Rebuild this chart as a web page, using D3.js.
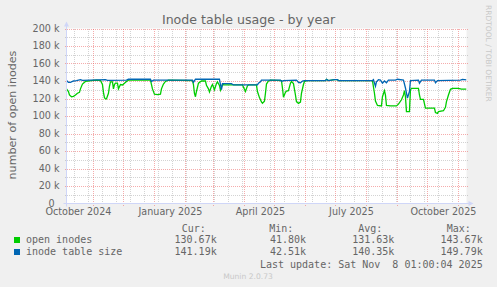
<!DOCTYPE html>
<html><head><meta charset="utf-8">
<script src="https://cdn.jsdelivr.net/npm/d3@7"></script>
<style>
html,body{margin:0;padding:0;background:#f0f0f0;}
svg{display:block;}
text{font-family:"DejaVu Sans",sans-serif;fill:#666;}
.mono{font-family:"DejaVu Sans Mono",monospace;white-space:pre;}
</style></head><body>
<svg id="c" width="497" height="287"></svg>
<script>
// ---- data (values in thousands) ----
const openInodes = [
["2024-10-04",131],["2024-10-06",128],["2024-10-07",124],["2024-10-09",122],["2024-10-11",122.5],
["2024-10-13",124],["2024-10-15",126],["2024-10-17",127],["2024-10-18",131],["2024-10-20",136.5],
["2024-10-23",139.5],["2024-10-29",140.5],["2024-11-03",141],["2024-11-07",140.5],["2024-11-09",136],
["2024-11-10",127],["2024-11-11",121],["2024-11-12",119.5],["2024-11-13",119.5],["2024-11-15",126],
["2024-11-16",134],["2024-11-17",139],["2024-11-19",139],["2024-11-20",131],["2024-11-21",136],
["2024-11-22",137.5],["2024-11-24",137.5],["2024-11-25",131],["2024-11-27",136],["2024-11-29",135.5],
["2024-12-01",137.5],["2024-12-03",139.5],["2024-12-05",141],["2024-12-27",141],["2024-12-29",131],
["2024-12-31",125],["2025-01-03",124.5],["2025-01-06",125],["2025-01-07",131],["2025-01-09",136.5],
["2025-01-11",139.5],["2025-01-14",141],["2025-02-07",140.5],["2025-02-08",136],["2025-02-09",126],
["2025-02-10",122],["2025-02-11",128],["2025-02-13",137.5],["2025-02-16",140],["2025-02-20",140],
["2025-02-21",135],["2025-02-23",131],["2025-02-24",127.5],["2025-02-26",134],["2025-02-27",136],
["2025-03-01",130],["2025-03-03",137],["2025-03-04",139],["2025-03-06",135],["2025-03-07",129.5],
["2025-03-09",136],["2025-03-11",135.5],["2025-03-29",135.5],["2025-04-01",128],["2025-04-03",134.5],
["2025-04-04",135.5],["2025-04-12",135.5],["2025-04-13",128],["2025-04-15",121],["2025-04-17",116],
["2025-04-18",114.5],["2025-04-20",117],["2025-04-21",126],["2025-04-22",136.5],["2025-04-24",140],
["2025-04-26",141],["2025-05-07",140.5],["2025-05-08",132],["2025-05-09",121.5],["2025-05-11",127],
["2025-05-12",128.5],["2025-05-14",129],["2025-05-16",137.5],["2025-05-17",139.5],["2025-05-19",137],
["2025-05-21",124],["2025-05-22",116.5],["2025-05-24",114.5],["2025-05-26",116],["2025-05-27",126],
["2025-05-29",136],["2025-05-30",139.5],["2025-06-02",140.5],["2025-06-20",140.5],["2025-06-21",141.8],
["2025-06-23",140.5],["2025-06-29",141.5],["2025-07-02",141.5],["2025-07-03",140.5],["2025-08-06",140.5],
["2025-08-08",126],["2025-08-09",117],["2025-08-11",112],["2025-08-15",111.5],["2025-08-16",122],
["2025-08-18",129],["2025-08-19",124],["2025-08-20",112],["2025-08-24",111.5],["2025-08-30",111.5],
["2025-09-01",113.5],["2025-09-04",118.5],["2025-09-06",124],["2025-09-07",129],["2025-09-08",122],
["2025-09-09",105],["2025-09-12",105],["2025-09-13",130],["2025-09-14",131.5],["2025-09-21",131.5],
["2025-09-22",124],["2025-09-23",119],["2025-09-26",119],["2025-09-28",109],["2025-10-07",109],
["2025-10-08",104],["2025-10-10",103],["2025-10-11",105],["2025-10-16",106],["2025-10-18",110],
["2025-10-19",116.5],["2025-10-21",124],["2025-10-23",130.5],["2025-10-25",131.5],["2025-10-31",131.5],
["2025-11-03",130.7],["2025-11-08",130.67]
];
const inodeTableSize = [
["2024-10-04",140.5],["2024-10-06",138.5],["2024-10-08",138.5],["2024-10-11",140],["2024-10-14",140.5],
["2024-10-18",141.5],["2024-10-20",140.8],["2024-11-12",141.5],["2024-11-14",140.8],["2024-12-03",141],
["2024-12-05",142],["2024-12-27",142],["2024-12-28",139.5],["2024-12-30",141],["2025-02-07",141],
["2025-02-08",138.5],["2025-02-10",142],["2025-03-06",142],["2025-03-07",136],["2025-03-08",130],
["2025-03-09",137],["2025-03-18",137],["2025-03-20",135.5],["2025-04-13",135.5],["2025-04-14",137.5],
["2025-04-16",139],["2025-04-17",141],["2025-05-06",141],["2025-05-07",139.5],["2025-05-09",140.5],
["2025-05-22",141],["2025-05-24",138.5],["2025-05-26",138],["2025-05-28",140],["2025-05-30",140.5],
["2025-06-20",140.5],["2025-06-21",141.8],["2025-06-23",140.5],["2025-06-29",141.5],["2025-07-02",141.5],
["2025-07-03",140.5],["2025-08-06",140.5],["2025-08-07",141.5],["2025-08-09",134],["2025-08-10",139],
["2025-08-12",141.5],["2025-08-14",141],["2025-08-16",137.5],["2025-08-18",140],["2025-08-20",138],
["2025-08-22",141],["2025-08-29",141],["2025-08-31",142],["2025-09-06",141],["2025-09-08",132],
["2025-09-10",120.5],["2025-09-12",128],["2025-09-13",140.5],["2025-09-21",141],["2025-09-22",137.5],
["2025-09-24",141],["2025-10-07",141],["2025-10-08",138],["2025-10-10",140.5],["2025-11-02",141],
["2025-11-04",141.8],["2025-11-08",141.19]
];
const seriesNames = ["open inodes","inode table size"];
const seriesColors = ["#00cc00","#0066b3"];
const statHeaders = ["Cur:","Min:","Avg:","Max:"];
const statOpen = ["130.67k","41.80k","131.63k","143.67k"];
const statSize = ["141.19k","42.51k","140.35k","149.79k"];
const yTicks = [0,20,40,60,80,100,120,140,160,180,200];
const yTickLabels = ["0","20 k","40 k","60 k","80 k","100 k","120 k","140 k","160 k","180 k","200 k"];
const xLabelMonths = ["2024-10-01","2025-01-01","2025-04-01","2025-07-01","2025-10-01"];
const xLabels = ["October 2024","January 2025","April 2025","July 2025","October 2025"];
const titleText = "Inode table usage - by year";
const yTitle = "number of open inodes";
const lastUpdate = "Last update: Sat Nov  8 01:00:04 2025";

// ---- layout ----
const svg = d3.select("#c");
const W = 497, H = 287;
const X0 = 66.5, X1 = 466.5, Y0 = 203.5, Y1 = 28.5;
const parse = d3.utcParse("%Y-%m-%d");
const tEnd = new Date(Date.UTC(2025,10,8,1,0,4));
const tStart = new Date(tEnd.getTime() - 400*86400000);
const x = d3.scaleUtc().domain([tStart,tEnd]).range([X0,X1]);
const y = d3.scaleLinear().domain([0,200]).range([Y0,Y1]);

svg.append("rect").attr("width",W).attr("height",H).attr("fill","#f0f0f0");
svg.append("rect").attr("x",X0).attr("y",Y1).attr("width",X1-X0).attr("height",Y0-Y1).attr("fill","#fff");

const minorCol = "rgba(150,150,150,0.42)", majorCol = "rgba(235,90,90,0.5)";
const g = svg.append("g").attr("shape-rendering","crispEdges");
// horizontal minor grid (10k)
d3.range(10,200,20).forEach(v=>{
  const py = Math.round(y(v))+0.5;
  g.append("line").attr("x1",X0-2).attr("x2",X1+2).attr("y1",py).attr("y2",py)
   .attr("stroke",minorCol).attr("stroke-dasharray","1,1");
});
// vertical minor grid: every two weeks (Sundays)
d3.utcSunday.range(new Date(Date.UTC(2024,9,13)), tEnd, 2).forEach(d=>{
  const px = Math.round(x(d)-1)+0.5;
  g.append("line").attr("x1",px).attr("x2",px).attr("y1",Y1).attr("y2",Y0)
   .attr("stroke",minorCol).attr("stroke-dasharray","1,1");
});
// major horizontal
yTicks.forEach(v=>{
  if(v===0) return;
  const py = Math.round(y(v))+0.5;
  g.append("line").attr("x1",X0-2).attr("x2",X1+2).attr("y1",py).attr("y2",py)
   .attr("stroke",majorCol).attr("stroke-dasharray","1,1");
});
// major vertical: month starts
d3.utcMonth.range(d3.utcMonth.ceil(tStart), tEnd).forEach(d=>{
  const px = Math.round(x(d)-1)+0.5;
  g.append("line").attr("x1",px).attr("x2",px).attr("y1",Y1).attr("y2",Y0+3)
   .attr("stroke",majorCol).attr("stroke-dasharray","1,1");
});

// lines
svg.append("clipPath").attr("id","pc").append("rect")
  .attr("x",X0).attr("y",Y1-5).attr("width",X1-X0).attr("height",Y0-Y1+5);
const line = d3.line().x(d=>x(parse(d[0]))).y(d=>y(d[1]));
[openInodes, inodeTableSize].forEach((s,i)=>{
  svg.append("path").datum(s).attr("d",line).attr("fill","none")
    .attr("stroke",seriesColors[i]).attr("stroke-width",1.3).attr("clip-path","url(#pc)");
});

// axes
const axCol = "#cfd6f8";
svg.append("line").attr("x1",X0-3).attr("x2",X1+3).attr("y1",Y0).attr("y2",Y0).attr("stroke",axCol);
svg.append("line").attr("x1",X0).attr("x2",X0).attr("y1",Y0+3).attr("y2",Y1-3).attr("stroke",axCol);
svg.append("path").attr("d",`M${X1+2},${Y0-2.5}L${X1+7},${Y0}L${X1+2},${Y0+2.5}Z`).attr("fill",axCol);
svg.append("path").attr("d",`M${X0-2.5},${Y1-2}L${X0},${Y1-7}L${X0+2.5},${Y1-2}Z`).attr("fill",axCol);

// y labels
yTicks.forEach((v,i)=>{
  svg.append("text").attr("x", v===0 ? 54.5 : 59.5).attr("y",y(v)+3.3).attr("text-anchor","end")
    .attr("font-size",9.6).text(yTickLabels[i]);
});
// x labels
xLabelMonths.forEach((m,i)=>{
  const d = d3.utcDay.offset(parse(m),15);
  svg.append("text").attr("x",x(d)).attr("y",215.3).attr("text-anchor","middle")
    .attr("font-size",9.6).text(xLabels[i]);
});
// title
svg.append("text").attr("x",W/2).attr("y",23.5).attr("text-anchor","middle").attr("font-size",12.6).text(titleText);
// y title
svg.append("text").attr("transform","translate(15.5,115) rotate(-90)").attr("text-anchor","middle")
  .attr("font-size",11.1).text(yTitle);
// watermark
svg.append("text").attr("transform","translate(485.5,5) rotate(90)").attr("font-size",7.5)
  .style("fill","#c8c8c8").text("RRDTOOL / TOBI OETIKER");

// legend
const hdrX = [181.7,269.3,358.3,446.7];
const valX = [216.7,306,394.3,482.7];
statHeaders.forEach((h,i)=>{
  svg.append("text").attr("class","mono").attr("x",hdrX[i]).attr("y",231.5).attr("font-size",10).text(h);
});
[statOpen,statSize].forEach((vals,r)=>{
  const yy = 243.3 + r*12;
  svg.append("rect").attr("x",14).attr("y",yy-6.3).attr("width",6).attr("height",6).attr("fill",seriesColors[r]);
  svg.append("text").attr("class","mono").attr("x",26).attr("y",yy).attr("font-size",10).text(seriesNames[r]);
  vals.forEach((v,i)=>{
    svg.append("text").attr("class","mono").attr("x",valX[i]).attr("y",yy).attr("text-anchor","end")
      .attr("font-size",10).text(v);
  });
});
svg.append("text").attr("class","mono").attr("x",482.7).attr("y",267.5).attr("text-anchor","end")
  .attr("font-size",10).text(lastUpdate);
svg.append("text").attr("x",248).attr("y",279).attr("text-anchor","middle").attr("font-size",7.6)
  .style("fill","#c8c8c8").text("Munin 2.0.73");
</script>
</body></html>
